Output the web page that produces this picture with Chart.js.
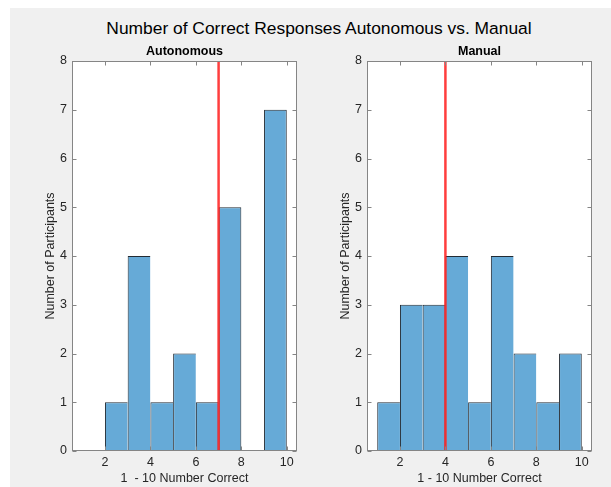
<!DOCTYPE html>
<html><head><meta charset="utf-8">
<script src="https://cdn.jsdelivr.net/npm/chart.js@4.4.1/dist/chart.umd.min.js"></script>
<style>
html,body{margin:0;padding:0;background:#fff;width:611px;height:487px;overflow:hidden;}
#panel{position:absolute;left:10px;top:8px;right:0;bottom:0;background:#f0f0f0;}
#title{position:absolute;left:0;top:18px;width:638px;text-align:center;font:17.4px "Liberation Sans",Arial,Helvetica,sans-serif;color:#000;line-height:20px;white-space:nowrap;}
canvas{position:absolute;left:0;top:0;}
</style></head><body>
<div id="panel"></div>
<div id="title">Number of Correct Responses Autonomous vs. Manual</div>
<canvas id="c1" width="611" height="487"></canvas>
<canvas id="c2" width="611" height="487"></canvas>
<script>
// ---- data ----
const autoBinEdges = [2, 3, 4, 5, 6, 7, 8, 9, 10];
const autoCounts = [1, 4, 1, 2, 1, 5, 0, 7];
const manualBinEdges = [1, 2, 3, 4, 5, 6, 7, 8, 9, 10];
const manualCounts = [1, 3, 3, 4, 1, 4, 2, 1, 2];
const autoThreshold = 7;
const manualThreshold = 4;
const xTickValues = [2, 4, 6, 8, 10];
const yTickValues = [0, 1, 2, 3, 4, 5, 6, 7, 8];
const xLimits = [0.55, 10.45];
const yLimits = [0, 8];

// ---- style ----
const FONT = '"Liberation Sans", Arial, Helvetica, sans-serif';
const FS = 12.5;
const AXIS_COLOR = '#858585';
const TEXT_COLOR = '#262626';
const BAR_FILL = '#66AAD7';
const BAR_EDGE = 'rgba(10,20,30,0.9)';
const TICK_LEN = 4;

const boxPlugin = {
  id: 'matlabBox',
  beforeDatasetsDraw(chart) {
    const {ctx, chartArea: a} = chart;
    ctx.save();
    ctx.fillStyle = '#ffffff';
    ctx.fillRect(a.left, a.top, a.right - a.left, a.bottom - a.top);
    ctx.restore();
  },
  afterDatasetsDraw(chart) {
    const {ctx, chartArea: a, scales: {x, y}} = chart;
    ctx.save();
    ctx.strokeStyle = AXIS_COLOR;
    ctx.lineWidth = 1;
    const L = Math.round(a.left) + 0.5, R = Math.round(a.right) - 0.5;
    const T = Math.round(a.top) + 0.5, B = Math.round(a.bottom) - 0.5;
    ctx.strokeRect(L, T, R - L, B - T);
    ctx.beginPath();
    x.ticks.forEach(t => {
      const px = Math.round(x.getPixelForValue(t.value)) + 0.5;
      ctx.moveTo(px, B); ctx.lineTo(px, B - TICK_LEN);
      ctx.moveTo(px, T); ctx.lineTo(px, T + TICK_LEN);
    });
    y.ticks.forEach(t => {
      const py = Math.round(y.getPixelForValue(t.value)) + 0.5;
      ctx.moveTo(L, py); ctx.lineTo(L + TICK_LEN, py);
      ctx.moveTo(R, py); ctx.lineTo(R - TICK_LEN, py);
    });
    ctx.stroke();
    ctx.restore();
  }
};

function makeChart(id, cfg) {
  const centers = cfg.counts.map((c, i) => (cfg.edges[i] + cfg.edges[i + 1]) / 2);
  const barData = cfg.counts.map((c, i) => ({x: centers[i], y: c > 0 ? c : null}));
  return new Chart(document.getElementById(id), {
    type: 'bar',
    data: {
      datasets: [
        {
          type: 'line',
          data: [{x: cfg.threshold, y: yLimits[0]}, {x: cfg.threshold, y: yLimits[1]}],
          borderColor: 'rgba(255,20,20,0.82)',
          borderWidth: 2.5,
          pointRadius: 0,
          order: 0
        },
        {
          type: 'bar',
          data: barData,
          backgroundColor: BAR_FILL,
          borderColor: BAR_EDGE,
          borderWidth: (ctx) => {
            const i = ctx.dataIndex;
            const next = barData[i + 1];
            const lastOrGap = !next || next.y === null;
            return {top: 1, left: 1, right: lastOrGap ? 1 : 0, bottom: 0};
          },
          inflateAmount: 0,
          barPercentage: 1,
          categoryPercentage: 1,
          order: 1
        }
      ]
    },
    options: {
      responsive: false,
      animation: false,
      events: [],
      layout: {padding: {left: cfg.padLeft, right: cfg.padRight, top: 44, bottom: 0}},
      plugins: {
        legend: {display: false},
        tooltip: {enabled: false},
        title: {
          display: true, text: cfg.title, fullSize: false, color: '#000',
          font: {family: FONT, size: FS, weight: 'bold', lineHeight: 1.2},
          padding: {top: 0, bottom: 2}
        }
      },
      scales: {
        x: {
          type: 'linear', min: xLimits[0], max: xLimits[1], offset: false,
          grid: {display: false, drawTicks: false}, border: {display: false},
          afterBuildTicks: s => { s.ticks = xTickValues.map(v => ({value: v})); },
          ticks: {padding: 4.5, color: TEXT_COLOR, font: {family: FONT, size: FS}, maxRotation: 0, autoSkip: false},
          title: {display: true, text: cfg.xTitle, color: TEXT_COLOR, font: {family: FONT, size: FS}, padding: {top: 0, bottom: 1}},
          afterFit: s => { s.height = 36; }
        },
        y: {
          type: 'linear', min: yLimits[0], max: yLimits[1],
          grid: {display: false, drawTicks: false}, border: {display: false},
          afterBuildTicks: s => { s.ticks = yTickValues.map(v => ({value: v})); },
          ticks: {padding: 5, color: TEXT_COLOR, font: {family: FONT, size: FS}, autoSkip: false},
          title: {display: true, text: 'Number of Participants', color: TEXT_COLOR, font: {family: FONT, size: FS}, padding: {top: 43.5, bottom: 0}},
          afterFit: s => { s.width = 72; }
        }
      }
    },
    plugins: [boxPlugin]
  });
}

makeChart('c1', {
  title: 'Autonomous', xTitle: '1  - 10 Number Correct',
  edges: autoBinEdges, counts: autoCounts, threshold: autoThreshold,
  padLeft: 0, padRight: 314
});
makeChart('c2', {
  title: 'Manual', xTitle: '1 - 10 Number Correct',
  edges: manualBinEdges, counts: manualCounts, threshold: manualThreshold,
  padLeft: 295, padRight: 19
});
</script>
</body></html>
